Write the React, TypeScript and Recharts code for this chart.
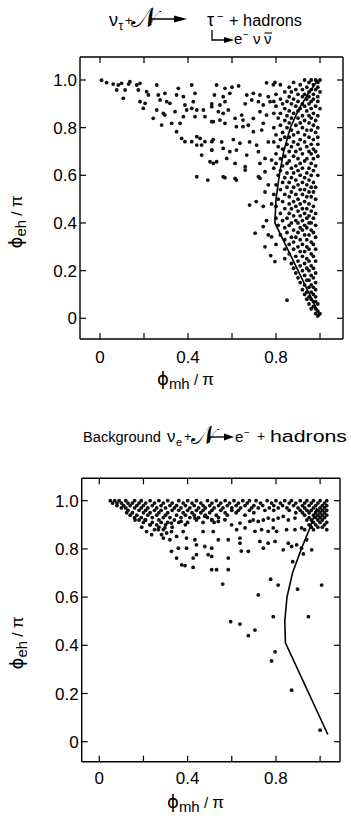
import React from 'react';
import { ScatterChart, Scatter, XAxis, YAxis } from 'recharts';

// ---------- shared tick values ----------
const X_TICKS = [0, 0.2, 0.4, 0.6, 0.8, 1.0];
const X_LABELED = [0, 0.4, 0.8];
const Y_TICKS = [0, 0.2, 0.4, 0.6, 0.8, 1.0];

// ---------- top panel: nu_tau signal ----------
const tauScattered: [number, number][] = [
  [0.007, 0.999], [0.03, 0.989], [0.06, 0.983], [0.083, 0.979], [0.098, 0.986], [0.13, 0.983], [0.136, 0.993],
  [0.076, 0.958], [0.114, 0.958], [0.106, 0.923], [0.167, 0.979], [0.182, 0.986], [0.174, 0.958], [0.212, 0.951],
  [0.22, 0.937], [0.182, 0.909], [0.205, 0.902], [0.197, 0.881], [0.258, 0.979], [0.265, 0.937], [0.273, 0.916],
  [0.295, 0.944], [0.303, 0.909], [0.258, 0.874], [0.242, 0.839], [0.288, 0.86], [0.295, 0.853], [0.28, 0.811],
  [0.318, 0.902], [0.326, 0.818], [0.341, 0.867], [0.348, 0.937], [0.356, 0.965], [0.379, 0.93], [0.386, 0.895],
  [0.394, 0.874], [0.379, 0.846], [0.364, 0.818], [0.348, 0.783], [0.371, 0.755], [0.417, 0.979], [0.432, 0.944],
  [0.424, 0.909], [0.44, 0.874], [0.432, 0.846], [0.417, 0.881], [0.47, 0.874], [0.477, 0.846], [0.508, 0.888],
  [0.515, 0.825], [0.386, 0.741], [0.417, 0.741], [0.44, 0.762], [0.455, 0.755], [0.477, 0.741], [0.508, 0.741],
  [0.44, 0.727], [0.462, 0.727], [0.508, 0.706], [0.462, 0.685], [0.5, 0.657], [0.515, 0.65], [0.44, 0.594], [0.49, 0.58],
  [0.53, 0.979], [0.568, 0.965], [0.6, 0.97], [0.63, 0.975], [0.757, 0.988], [0.788, 0.98], [0.795, 0.99],
  [0.52, 0.937], [0.56, 0.93], [0.59, 0.944], [0.667, 0.937], [0.697, 0.944], [0.727, 0.937], [0.765, 0.93],
  [0.508, 0.9], [0.545, 0.895], [0.568, 0.909], [0.66, 0.9], [0.69, 0.916], [0.72, 0.909], [0.742, 0.895], [0.773, 0.909],
  [0.538, 0.867], [0.56, 0.86], [0.583, 0.874], [0.644, 0.853], [0.727, 0.867], [0.757, 0.853],
  [0.508, 0.825], [0.545, 0.832], [0.568, 0.818], [0.614, 0.839], [0.65, 0.832], [0.697, 0.839], [0.742, 0.818],
  [0.62, 0.804], [0.65, 0.804], [0.674, 0.81], [0.697, 0.783], [0.735, 0.79],
  [0.515, 0.75], [0.553, 0.74], [0.606, 0.75], [0.636, 0.735], [0.68, 0.74], [0.712, 0.727], [0.765, 0.74],
  [0.508, 0.706], [0.56, 0.713], [0.59, 0.699], [0.62, 0.706], [0.667, 0.685], [0.72, 0.699], [0.75, 0.671],
  [0.53, 0.657], [0.576, 0.671], [0.614, 0.65], [0.66, 0.636], [0.727, 0.65], [0.78, 0.664],
  [0.56, 0.594], [0.614, 0.587], [0.66, 0.622], [0.72, 0.594], [0.75, 0.615],
  [0.568, 0.59], [0.62, 0.58], [0.727, 0.588], [0.765, 0.56], [0.75, 0.53], [0.71, 0.49], [0.68, 0.475],
  [0.742, 0.47], [0.78, 0.48], [0.757, 0.41], [0.742, 0.385], [0.705, 0.357], [0.765, 0.35], [0.78, 0.342],
  [0.75, 0.3], [0.776, 0.263], [0.795, 0.238], [0.85, 0.076],
];

const tauDenseRows: [number, number[]][] = [
  [1.0, [0.93, 0.96, 0.98, 1.0]], [0.99, [0.88, 0.95, 0.99]], [0.98, [0.82, 0.91, 0.97]],
  [0.97, [0.86, 0.94, 0.99]], [0.96, [0.89, 0.92, 0.96, 0.98]], [0.95, [0.84, 0.87, 0.95, 1.0]],
  [0.94, [0.8, 0.9, 0.93, 0.97]], [0.93, [0.86, 0.92, 0.95, 0.99]], [0.92, [0.82, 0.88, 0.94, 0.97]],
  [0.91, [0.79, 0.85, 0.9, 0.96, 0.99]], [0.9, [0.83, 0.87, 0.92, 0.95]], [0.89, [0.8, 0.89, 0.93, 0.98]],
  [0.88, [0.84, 0.91, 0.96, 1.0]], [0.87, [0.86, 0.9, 0.94]], [0.86, [0.79, 0.82, 0.88, 0.97]],
  [0.85, [0.85, 0.92, 0.95, 0.99]], [0.84, [0.81, 0.87, 0.9, 0.96]], [0.83, [0.84, 0.93, 0.98]],
  [0.82, [0.86, 0.91, 0.95]], [0.81, [0.82, 0.89, 0.97]], [0.8, [0.79, 0.85, 0.92, 0.99]],
  [0.79, [0.87, 0.94, 0.96]], [0.78, [0.83, 0.9, 0.98]], [0.77, [0.8, 0.88, 0.93]],
  [0.76, [0.84, 0.86, 0.95, 0.99]], [0.75, [0.82, 0.91, 0.97]], [0.74, [0.79, 0.88, 0.93]],
  [0.73, [0.85, 0.9, 0.96, 0.99]], [0.72, [0.81, 0.87, 0.94]], [0.71, [0.83, 0.91, 0.97]],
  [0.7, [0.86, 0.89, 0.95, 0.98]], [0.69, [0.8, 0.92, 0.96]], [0.68, [0.84, 0.88, 0.99]],
  [0.67, [0.82, 0.9, 0.94, 0.97]], [0.66, [0.86, 0.93]], [0.65, [0.8, 0.85, 0.91, 0.96]],
  [0.64, [0.83, 0.89, 0.98]], [0.63, [0.79, 0.87, 0.92, 0.95]], [0.62, [0.82, 0.9, 0.97]],
  [0.61, [0.85, 0.88, 0.94]], [0.6, [0.81, 0.91, 0.96, 0.99]], [0.59, [0.84, 0.87, 0.93]],
  [0.58, [0.89, 0.95]], [0.57, [0.83, 0.86, 0.92, 0.97]], [0.56, [0.8, 0.9, 0.94]],
  [0.55, [0.85, 0.88, 0.96, 0.98]], [0.54, [0.82, 0.91, 0.93]], [0.53, [0.87, 0.95, 0.97]],
  [0.52, [0.79, 0.84, 0.89, 0.92]], [0.51, [0.86, 0.94, 0.96]], [0.5, [0.81, 0.9, 0.98]],
  [0.49, [0.83, 0.88, 0.93]], [0.48, [0.86, 0.91, 0.95]], [0.47, [0.8, 0.89, 0.97]],
  [0.46, [0.84, 0.87, 0.92, 0.94]], [0.45, [0.9, 0.96]], [0.44, [0.82, 0.86, 0.93, 0.98]],
  [0.43, [0.88, 0.91, 0.95]], [0.42, [0.8, 0.85, 0.94, 0.97]], [0.41, [0.83, 0.89, 0.92]],
  [0.4, [0.87, 0.9, 0.95, 0.96]], [0.39, [0.81, 0.86, 0.93, 0.98]], [0.38, [0.84, 0.91, 0.94]],
  [0.37, [0.88, 0.92, 0.96]], [0.36, [0.85, 0.9, 0.97]], [0.35, [0.82, 0.93, 0.95]],
  [0.34, [0.87, 0.89, 0.98]], [0.33, [0.84, 0.91, 0.94]], [0.32, [0.88, 0.96]],
  [0.31, [0.8, 0.86, 0.92, 0.97]], [0.3, [0.9, 0.94]], [0.29, [0.84, 0.88, 0.95, 0.98]],
  [0.28, [0.91, 0.93]], [0.27, [0.86, 0.96]], [0.26, [0.89, 0.92, 0.97]], [0.25, [0.84, 0.94]],
  [0.24, [0.9, 0.95, 0.98]], [0.23, [0.87, 0.93]], [0.22, [0.91, 0.96]], [0.21, [0.88, 0.94, 0.97]],
  [0.2, [0.92, 0.95]], [0.19, [0.89, 0.98]], [0.18, [0.93, 0.96]], [0.17, [0.9, 0.97]],
  [0.16, [0.94, 0.95]], [0.15, [0.91, 0.98]], [0.14, [0.93, 0.96]], [0.13, [0.95, 0.97]],
  [0.12, [0.92, 0.98]], [0.11, [0.94, 0.96]], [0.1, [0.93, 0.97]], [0.09, [0.95, 0.98]],
  [0.08, [0.94, 0.96]], [0.07, [0.97, 0.98]], [0.06, [0.95, 0.99]], [0.05, [0.97]],
  [0.04, [0.96, 0.98]], [0.03, [0.99]], [0.02, [0.98, 1.0]], [0.01, [0.99]],
];

const tauCurve: [number, number][] = [
  [0.99, 1.0], [0.945, 0.94], [0.905, 0.88], [0.865, 0.8], [0.835, 0.7], [0.815, 0.6], [0.8, 0.5], [0.795, 0.4], [1.0, 0.01],
];

// ---------- bottom panel: nu_e background ----------
const bgScattered: [number, number][] = [
  [0.124, 0.95], [0.162, 0.92], [0.207, 0.92], [0.192, 0.89], [0.23, 0.9], [0.267, 0.88], [0.297, 0.887],
  [0.327, 0.907], [0.37, 0.914], [0.433, 0.928], [0.478, 0.935], [0.509, 0.921], [0.214, 0.872], [0.237, 0.859],
  [0.282, 0.859], [0.305, 0.866], [0.327, 0.872], [0.35, 0.852], [0.38, 0.872], [0.395, 0.845], [0.433, 0.838],
  [0.47, 0.872], [0.516, 0.872], [0.29, 0.845], [0.32, 0.838], [0.327, 0.79], [0.358, 0.803], [0.395, 0.803],
  [0.44, 0.817], [0.478, 0.81], [0.509, 0.803], [0.35, 0.762], [0.425, 0.762], [0.44, 0.776], [0.493, 0.776],
  [0.509, 0.769], [0.373, 0.734], [0.388, 0.731], [0.425, 0.723], [0.509, 0.714],
  [0.539, 0.914], [0.569, 0.921], [0.599, 0.9], [0.622, 0.88], [0.637, 0.907], [0.66, 0.887], [0.682, 0.914],
  [0.697, 0.92], [0.72, 0.914], [0.743, 0.92], [0.765, 0.928], [0.788, 0.92], [0.81, 0.928], [0.833, 0.935],
  [0.856, 0.92], [0.886, 0.928], [0.705, 0.873], [0.735, 0.88], [0.765, 0.873], [0.788, 0.887], [0.803, 0.873],
  [0.848, 0.88], [0.886, 0.88], [0.916, 0.887],
  [0.539, 0.838], [0.584, 0.838], [0.637, 0.845], [0.637, 0.824], [0.727, 0.831], [0.765, 0.824], [0.796, 0.831],
  [0.856, 0.824], [0.894, 0.817], [0.939, 0.838], [0.584, 0.762], [0.643, 0.791], [0.675, 0.79], [0.743, 0.803],
  [0.833, 0.796], [0.871, 0.81], [0.916, 0.803], [0.962, 0.796], [0.531, 0.714], [0.584, 0.714], [0.876, 0.747],
  [0.924, 0.779],
  [0.559, 0.654], [0.595, 0.498], [0.637, 0.488], [0.675, 0.44], [0.705, 0.463], [0.72, 0.609], [0.776, 0.674],
  [0.78, 0.335], [0.788, 0.519], [0.796, 0.373], [0.81, 0.65], [0.871, 0.214], [0.898, 0.633], [0.947, 0.519],
  [1.007, 0.65], [1.0, 0.048],
];

const bgDenseRows: [number, number[]][] = [
  [1.0, [0.05, 0.07, 0.09, 0.12, 0.16, 0.19, 0.23, 0.27, 0.31, 0.36, 0.4, 0.44, 0.49, 0.53, 0.57, 0.61, 0.65, 0.68, 0.71, 0.76, 0.8, 0.84, 0.87, 0.91, 0.94, 0.97, 1.0, 1.03]],
  [0.99, [0.06, 0.08, 0.1, 0.13, 0.15, 0.18, 0.21, 0.25, 0.29, 0.33, 0.38, 0.42, 0.46, 0.51, 0.55, 0.59, 0.63, 0.67, 0.73, 0.78, 0.82, 0.86, 0.89, 0.93, 0.96, 0.99, 1.02]],
  [0.98, [0.08, 0.11, 0.14, 0.17, 0.2, 0.24, 0.28, 0.32, 0.35, 0.39, 0.43, 0.47, 0.5, 0.54, 0.58, 0.62, 0.66, 0.7, 0.74, 0.79, 0.83, 0.88, 0.92, 0.95, 0.98, 1.01, 1.03]],
  [0.97, [0.1, 0.12, 0.16, 0.19, 0.22, 0.26, 0.3, 0.34, 0.37, 0.41, 0.45, 0.48, 0.52, 0.56, 0.6, 0.64, 0.69, 0.72, 0.77, 0.81, 0.85, 0.9, 0.93, 0.97, 1.0, 1.02]],
  [0.96, [0.13, 0.18, 0.21, 0.25, 0.28, 0.33, 0.36, 0.4, 0.44, 0.47, 0.51, 0.55, 0.6, 0.63, 0.68, 0.75, 0.79, 0.86, 0.91, 0.94, 0.96, 0.99, 1.01, 1.03]],
  [0.95, [0.15, 0.2, 0.23, 0.27, 0.31, 0.38, 0.42, 0.46, 0.5, 0.57, 0.62, 0.7, 0.89, 0.92, 0.95, 0.98, 1.0, 1.02]],
  [0.94, [0.14, 0.17, 0.22, 0.26, 0.3, 0.35, 0.39, 0.43, 0.48, 0.53, 0.58, 0.66, 0.93, 0.97, 0.99, 1.01, 1.03]],
  [0.93, [0.16, 0.19, 0.24, 0.29, 0.32, 0.37, 0.41, 0.45, 0.49, 0.54, 0.95, 0.98, 1.0, 1.02]],
  [0.92, [0.18, 0.21, 0.27, 0.34, 0.44, 0.51, 0.94, 0.96, 0.99, 1.01]],
  [0.91, [0.2, 0.24, 0.28, 0.31, 0.36, 0.4, 0.47, 0.52, 0.97, 1.0, 1.03]],
  [0.9, [0.23, 0.26, 0.3, 0.39, 0.95, 0.98, 1.02]],
  [0.89, [0.27, 0.33, 0.96, 0.99, 1.01]],
  [0.88, [0.25, 0.29, 0.93, 0.97, 1.03]],
];

const bgCurve: [number, number][] = [
  [0.985, 0.97], [0.955, 0.89], [0.915, 0.8], [0.875, 0.7], [0.85, 0.6], [0.84, 0.5], [0.843, 0.41], [1.035, 0.03],
];

// ---------- helpers ----------
const toPoints = (pairs: [number, number][]) => pairs.map(([x, y]) => ({ x, y }));
const rowsToPoints = (rows: [number, number[]][]) =>
  rows.flatMap(([y, xs]) => xs.map((x) => ({ x, y })));

const FONT = '"Liberation Sans", Arial, Helvetica, sans-serif';
const GREEK = '"DejaVu Sans", "Liberation Sans", sans-serif';
const TICK_LEN = 6;
const AXIS_STYLE = { stroke: '#000', strokeWidth: 1.4 };

const fmt = (v: number) => (v === 0 ? '0' : v.toFixed(1));

const Dot = (p: any) => <circle cx={p.cx} cy={p.cy} r={1.9} fill="#111" />;
const NoDot = () => <g />;

function makeBottomTick(labelDy: number) {
  return (p: any) => {
    const v = p.payload.value;
    const show = X_LABELED.some((t) => Math.abs(t - v) < 1e-6);
    return (
      <g>
        <line x1={p.x} x2={p.x} y1={p.y} y2={p.y - TICK_LEN} stroke="#000" strokeWidth={1.2} />
        {show && (
          <text x={p.x} y={p.y + labelDy} textAnchor="middle" fontSize={17} fontFamily={FONT} fill="#000">
            {fmt(v)}
          </text>
        )}
      </g>
    );
  };
}
const TopTick = (p: any) => (
  <line x1={p.x} x2={p.x} y1={p.y} y2={p.y + TICK_LEN} stroke="#000" strokeWidth={1.2} />
);
const LeftTick = (p: any) => (
  <g>
    <line x1={p.x} x2={p.x + TICK_LEN} y1={p.y} y2={p.y} stroke="#000" strokeWidth={1.2} />
    <text x={p.x - 3} y={p.y + 6} textAnchor="end" fontSize={17} fontFamily={FONT} fill="#000">
      {fmt(p.payload.value)}
    </text>
  </g>
);
const RightTick = (p: any) => (
  <line x1={p.x} x2={p.x - TICK_LEN} y1={p.y} y2={p.y} stroke="#000" strokeWidth={1.2} />
);

type PanelProps = {
  height: number;
  margin: { top: number; right: number; bottom: number; left: number };
  xDomain: [number, number];
  yDomain: [number, number];
  points: { x: number; y: number }[];
  curve: { x: number; y: number }[];
  labelDy: number;
};

function Panel({ height, margin, xDomain, yDomain, points, curve, labelDy }: PanelProps) {
  return (
    <ScatterChart width={351} height={height} margin={margin}>
      <XAxis
        xAxisId="b" orientation="bottom" type="number" dataKey="x" domain={xDomain} allowDataOverflow
        ticks={X_TICKS} interval={0} tickSize={0} tickMargin={0} tickLine={false} height={1}
        axisLine={AXIS_STYLE} tick={makeBottomTick(labelDy)}
      />
      <XAxis
        xAxisId="t" orientation="top" type="number" dataKey="x" domain={xDomain} allowDataOverflow
        ticks={X_TICKS} interval={0} tickSize={0} tickMargin={0} tickLine={false} height={1}
        axisLine={AXIS_STYLE} tick={TopTick}
      />
      <YAxis
        yAxisId="l" orientation="left" type="number" dataKey="y" domain={yDomain} allowDataOverflow
        ticks={Y_TICKS} interval={0} tickSize={0} tickMargin={0} tickLine={false} width={1}
        axisLine={AXIS_STYLE} tick={LeftTick}
      />
      <YAxis
        yAxisId="r" orientation="right" type="number" dataKey="y" domain={yDomain} allowDataOverflow
        ticks={Y_TICKS} interval={0} tickSize={0} tickMargin={0} tickLine={false} width={1}
        axisLine={AXIS_STYLE} tick={RightTick}
      />
      <Scatter xAxisId="b" yAxisId="l" data={points} shape={Dot} isAnimationActive={false} />
      <Scatter xAxisId="t" yAxisId="r" data={curve} shape={NoDot} isAnimationActive={false}
        line={{ stroke: '#000', strokeWidth: 1.6 }} lineJointType="linear" />
    </ScatterChart>
  );
}

function AxisTitleX({ x, y, sub }: { x: number; y: number; sub: string }) {
  return (
    <text x={x} y={y} fontFamily={FONT} fill="#000">
      <tspan fontSize={18} fontFamily={GREEK}>ϕ</tspan>
      <tspan fontSize={15} dy={4}>{sub}</tspan>
      <tspan fontSize={15} dy={-4}> / </tspan>
      <tspan fontSize={17}>π</tspan>
    </text>
  );
}
function AxisTitleY({ cx, cy, sub }: { cx: number; cy: number; sub: string }) {
  return (
    <text x={cx} y={cy + 6} textAnchor="middle" fontFamily={FONT} fill="#000" transform={`rotate(-90, ${cx}, ${cy})`}>
      <tspan fontSize={18} fontFamily={GREEK}>ϕ</tspan>
      <tspan fontSize={15} dy={4}>{sub}</tspan>
      <tspan fontSize={15} dy={-4}> / </tspan>
      <tspan fontSize={17}>π</tspan>
    </text>
  );
}

export default function App() {
  const tauPoints = [...toPoints(tauScattered), ...rowsToPoints(tauDenseRows)];
  const bgPoints = [...toPoints(bgScattered), ...rowsToPoints(bgDenseRows)];
  return (
    <div style={{ position: 'absolute', left: 0, top: 0, width: 351, height: 823, background: '#fff' }}>
      <div style={{ position: 'absolute', left: 0, top: 0 }}>
        <Panel
          height={400}
          margin={{ top: 56, right: 7, bottom: 60, left: 79 }}
          xDomain={[-0.0909, 1.1045]}
          yDomain={[-0.0869, 1.0965]}
          points={tauPoints}
          curve={toPoints(tauCurve)}
          labelDy={24}
        />
      </div>
      <div style={{ position: 'absolute', left: 0, top: 410 }}>
        <Panel
          height={413}
          margin={{ top: 67.3, right: 10, bottom: 60.3, left: 80.7 }}
          xDomain={[-0.0797, 1.0901]}
          yDomain={[-0.083, 1.093]}
          points={bgPoints}
          curve={toPoints(bgCurve)}
          labelDy={22}
        />
      </div>
      <svg width={351} height={823} style={{ position: 'absolute', left: 0, top: 0, pointerEvents: 'none' }}>
        {/* top title */}
        <g fontFamily={FONT} fill="#000">
          <text x={109} y={26} fontSize={18}>ν</text>
          <text x={118.5} y={30} fontSize={12}>τ</text>
          <text x={125} y={25} fontSize={13}>+</text>
          <text x={131} y={27} fontSize={28}>𝒩</text>
          <line x1={149} y1={19} x2={176} y2={19} stroke="#000" strokeWidth={1.5} />
          <polygon points="174,15.5 187,19 174,22.5" fill="#000" />
          <text x={207} y={26} fontSize={18}>τ</text>
          <text x={217} y={20} fontSize={11}>−</text>
          <text x={229} y={26} fontSize={16} textLength={73} lengthAdjust="spacingAndGlyphs">+ hadrons</text>
          <path d="M212,30 V40 H226" fill="none" stroke="#000" strokeWidth={1.3} />
          <polygon points="224,37 234,40 224,43" fill="#000" />
          <text x={234} y={44} fontSize={15}>e</text>
          <text x={243} y={38} fontSize={10}>−</text>
          <text x={253} y={44} fontSize={15}>ν</text>
          <text x={264} y={44} fontSize={15}>ν</text>
          <line x1={264.5} y1={33} x2={272} y2={33} stroke="#000" strokeWidth={1.1} />
        </g>
        {/* bottom title */}
        <g fontFamily={FONT} fill="#000">
          <text x={83} y={442} fontSize={14} textLength={78} lengthAdjust="spacingAndGlyphs">Background</text>
          <text x={167} y={442} fontSize={17}>ν</text>
          <text x={176} y={446} fontSize={11}>e</text>
          <text x={184} y={441} fontSize={13}>+</text>
          <text x={191} y={444} fontSize={26}>𝒩</text>
          <line x1={208} y1={437} x2={226} y2={437} stroke="#000" strokeWidth={1.4} />
          <polygon points="224,433.5 234,437 224,440.5" fill="#000" />
          <text x={235} y={442} fontSize={15}>e</text>
          <text x={244} y={436} fontSize={10}>−</text>
          <text x={257} y={441} fontSize={14}>+</text>
          <text x={270} y={442} fontSize={16} textLength={77} lengthAdjust="spacingAndGlyphs">hadrons</text>
        </g>
        {/* axis titles */}
        <AxisTitleX x={157} y={385} sub="mh" />
        <AxisTitleY cx={16} cy={222} sub="eh" />
        <AxisTitleX x={167} y={808} sub="mh" />
        <AxisTitleY cx={17} cy={643} sub="eh" />
      </svg>
    </div>
  );
}
